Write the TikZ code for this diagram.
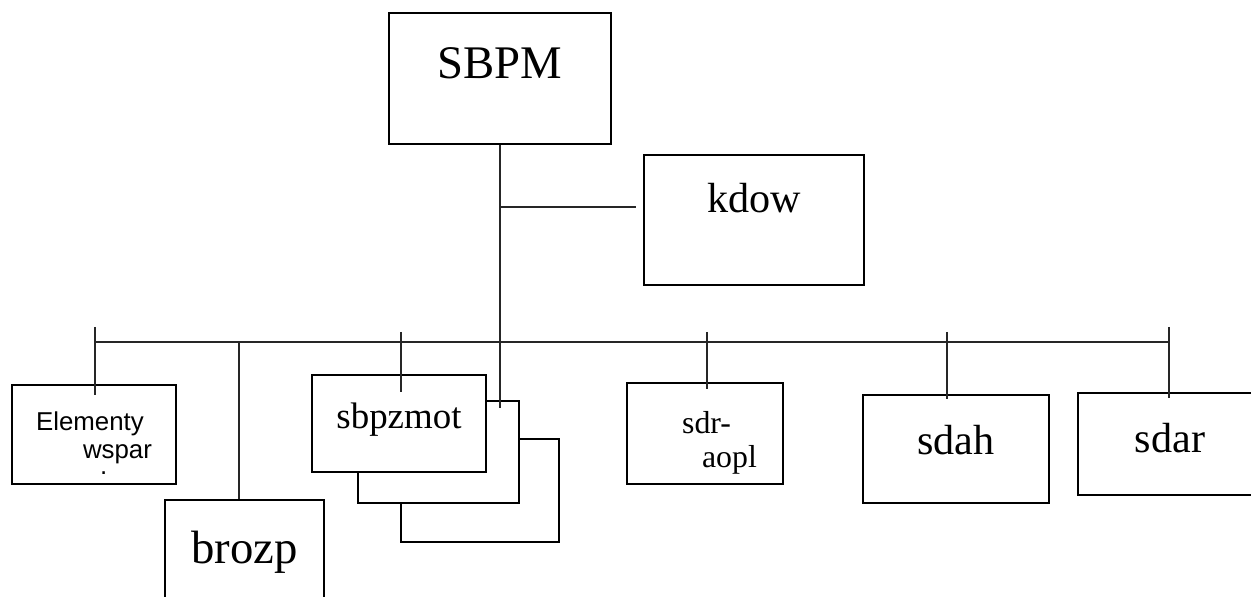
\documentclass[tikz,border=0pt]{standalone}
\usepackage{fontspec}
\setmainfont{Liberation Serif}
\newfontfamily\arialfont{Liberation Sans}
\usetikzlibrary{positioning}
\tikzset{
  box/.style={draw,line width=1.2pt,fill=white,inner sep=0pt,text height=0pt,text depth=0pt},
  wire/.style={line width=0.6pt,black!85},
  fbig/.style={font=\fontsize{26.6}{30}\selectfont},
  fmid/.style={font=\fontsize{24}{28}\selectfont},
  fsbp/.style={font=\fontsize{21}{24}\selectfont},
  fsdr/.style={font=\fontsize{18.1}{19.8}\selectfont},
  fel/.style={font=\arialfont\fontsize{14.7}{15.9}\selectfont}
}
\begin{document}
\begin{tikzpicture}[x=0.02cm,y=-0.02cm]
\useasboundingbox (0,0) rectangle (1251,597);
% top
\node[box,fbig,minimum width=4.44cm,minimum height=2.62cm] (sbpm) at (500,78.5) {SBPM};
\node[box,fmid,minimum width=4.40cm,minimum height=2.60cm,text depth=0.28cm] (kdow) at (754,220) {kdow};
% lower row
\node[box,fel,align=left,minimum width=3.28cm,minimum height=1.98cm,text height=1.62cm] (elem) at (94,434.5)
  {Elementy\\\hspace*{0.94cm}wspar\\[-0.22cm]\hspace*{1.28cm}.};
\node[box,fbig,minimum width=3.18cm,minimum height=2.8cm,text depth=0.28cm] (brozp) at (244.5,570) {brozp};
\node[box,minimum width=3.16cm,minimum height=2.06cm] (stackC) at (480,490.5) {};
\node[box,minimum width=3.22cm,minimum height=2.04cm] (stackB) at (438.5,452) {};
\node[box,fsbp,minimum width=3.48cm,minimum height=1.94cm,text height=0.22cm] (sbp) at (399,423.5) {sbpzmot};
\node[box,fsdr,align=left,minimum width=3.12cm,minimum height=2.02cm,text height=1.38cm] (sdr) at (705,433.5)
  {\hspace*{0.58cm}sdr-\\\hspace*{0.98cm}aopl};
\node[box,fmid,minimum width=3.72cm,minimum height=2.16cm,text height=0.24cm] (sdah) at (956,449) {sdah};
\node[box,fmid,minimum width=3.68cm,minimum height=2.04cm,text height=0.36cm] (sdar) at (1170,444) {sdar};
% connectors
\coordinate (trunkEnd) at (500,408);
\coordinate (kj) at (500,207);
\coordinate (busL) at (95,342);
\coordinate (busR) at (1169,342);
\coordinate (bj) at (239,342);
\draw[wire] (sbpm.south) -- (trunkEnd);
\draw[wire] (kj) -- ([xshift=-0.14cm]kj -| kdow.west);
\draw[wire] (busL) -- (busR);
\draw[wire] (bj) -- (bj |- brozp.north);
\foreach \nd/\xx/\ya/\dip in {elem/95/327/11,sbp/401/332/18,sdr/707/332/7,sdah/947/332/5,sdar/1169/327/6}
  \draw[wire] (\xx,\ya) -- (\xx,\ya |- \nd.north) -- ++(0,\dip);
\end{tikzpicture}
\end{document}
